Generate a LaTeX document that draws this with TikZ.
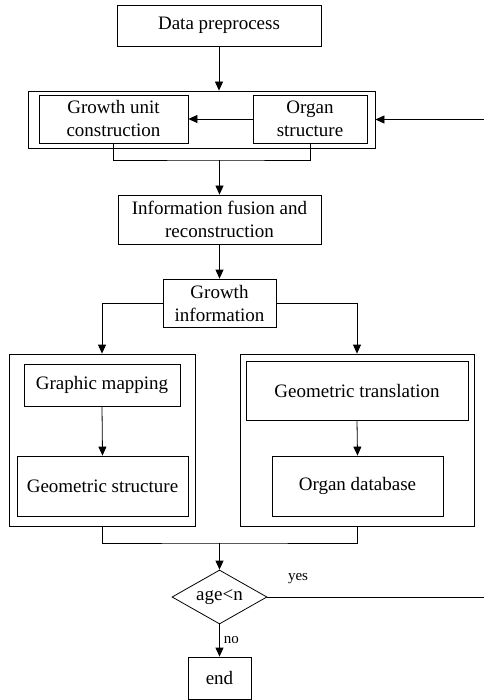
\documentclass[tikz,border=0pt]{standalone}
\usepackage{fontspec}
\setmainfont{Liberation Serif}
\newfontfamily\boxfont{Liberation Serif}
\usetikzlibrary{arrows.meta,shapes.geometric}
\begin{document}
\begin{tikzpicture}[x=1pt,y=-1pt,
  line width=0.8pt,
  box/.style={draw, rectangle, inner sep=0pt, align=center,
    font=\boxfont\fontsize{19}{23}\selectfont},
  flow/.style={-{Triangle[length=9pt,width=8pt]}},
  lbl/.style={font=\boxfont\fontsize{15}{18}\selectfont, inner sep=1pt}]
\useasboundingbox (0,0) rectangle (484,700);

% top of the flow
\node[box, minimum width=204pt, minimum height=41pt] (dp) at (219,25.5) {Data preprocess};
\node[box, minimum width=347pt, minimum height=57pt] (outer) at (201.5,119.5) {};
\node[box, minimum width=149pt, minimum height=48pt] (gu) at (113.5,119) {Growth unit\\construction};
\node[box, minimum width=114pt, minimum height=48pt] (org) at (310,119) {Organ\\structure};
\node[box, minimum width=203pt, minimum height=49pt] (info) at (219.5,219.5) {Information fusion and\\reconstruction};
\node[box, minimum width=113pt, minimum height=48pt] (gi) at (219.5,303) {Growth\\information};

% two branches
\node[box, minimum width=186pt, minimum height=172pt] (lbox) at (102,440) {};
\node[box, minimum width=156pt, minimum height=42pt] (gm) at (102,385) {Graphic mapping};
\node[box, minimum width=171pt, minimum height=60pt] (gs) at (102.5,486) {Geometric structure};
\node[box, minimum width=234pt, minimum height=172pt] (rbox) at (357,440) {};
\node[box, minimum width=222pt, minimum height=59pt] (gt) at (357,390.5) {Geometric translation};
\node[box, minimum width=171pt, minimum height=60pt] (od) at (357.5,486) {Organ database};

% decision and end
\node[draw, diamond, aspect=1.76, minimum width=95pt, minimum height=54pt, inner sep=0pt,
  font=\boxfont\fontsize{19}{23}\selectfont] (dec) at (219.5,597) {age<n};
\node[box, minimum width=63pt, minimum height=42pt] (end) at (219.5,678) {end};

% junctions and loop ends
\coordinate (j1) at (219.5,160);
\coordinate (j2) at (219.5,543);
\coordinate (fbin) at (484,119.5);
\coordinate (fbout) at (484,597);

% connectors
\draw[flow] (dp.south) -- (dp.south |- outer.north);
\draw[flow] (org.west) -- (gu.east);
\draw[flow] (fbin) -- (outer.east);
\draw (gu.south) |- (j1) -| (org.south);
\draw[flow] (j1) -- (info.north);
\draw[flow] (info.south) -- (gi.north);
\draw[flow] (gi.west) -| (lbox.north);
\draw[flow] (gi.east) -| (rbox.north);
\draw[flow] (gm.south) -- (gs.north);
\draw[flow] (gt.south) -- (od.north);
\draw (lbox.south) |- (j2) -| (rbox.south);
\draw[flow] (j2) -- (dec.north);
\draw[flow] (dec.south) -- node[lbl, right=3pt] {no} (end.north);
\draw (dec.east) -- (fbout);
\node[lbl] (yes) at (298,579) {yes};
\end{tikzpicture}
\end{document}
